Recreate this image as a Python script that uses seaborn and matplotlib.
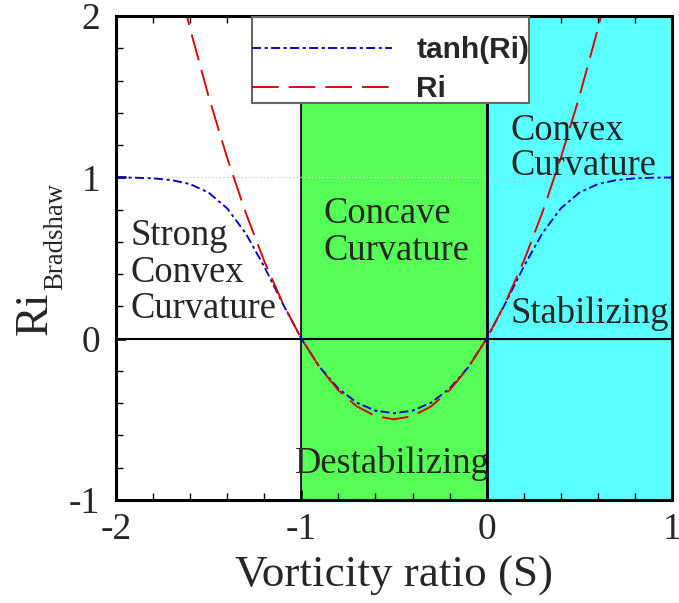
import matplotlib
matplotlib.use("Agg")
import matplotlib.pyplot as plt
import seaborn as sns
from matplotlib.ticker import MultipleLocator
from matplotlib.font_manager import FontProperties

# Vorticity ratio S
S = [-2.0, -1.9, -1.8, -1.7, -1.6, -1.5, -1.4, -1.3, -1.2, -1.1,
     -1.0, -0.9, -0.8, -0.7, -0.6, -0.5, -0.4, -0.3, -0.2, -0.1,
     0.0, 0.1, 0.2, 0.3, 0.4, 0.5, 0.6, 0.7, 0.8, 0.9, 1.0]

# Bradshaw Richardson number
RI = [4.00, 3.42, 2.88, 2.38, 1.92, 1.50, 1.12, 0.78, 0.48, 0.22,
      0.00, -0.18, -0.32, -0.42, -0.48, -0.50, -0.48, -0.42, -0.32, -0.18,
      0.00, 0.22, 0.48, 0.78, 1.12, 1.50, 1.92, 2.38, 2.88, 3.42, 4.00]

# Bounded form tanh(Ri)
TANH_RI = [0.9993, 0.9979, 0.9937, 0.9830, 0.9581, 0.9051, 0.8074, 0.6527, 0.4462, 0.2165,
           0.0000, -0.1781, -0.3095, -0.3969, -0.4462, -0.4621, -0.4462, -0.3969, -0.3095, -0.1781,
           0.0000, 0.2165, 0.4462, 0.6527, 0.8074, 0.9051, 0.9581, 0.9830, 0.9937, 0.9979, 0.9993]

SERIES_LABELS = ["tanh(Ri)", "Ri"]
X_TICKS = [-2, -1, 0, 1]
Y_TICKS = [-1, 0, 1, 2]

sns.set_style("ticks")
plt.rcParams.update({
    "font.family": ["Liberation Serif", "DejaVu Serif"],
    "axes.unicode_minus": False,
    "lines.scale_dashes": False,
})

fig = plt.figure(figsize=(6.79, 6.03), dpi=100)
ax = fig.add_axes([116 / 679, 1 - 500 / 603, 556 / 679, 484 / 603])

# curvature regimes
ax.axvspan(-1, 0, facecolor="#55ff55", edgecolor="black", lw=1.2, zorder=0)
ax.axvspan(0, 1, facecolor="#5affff", edgecolor="black", lw=1.2, zorder=0)
ax.axhline(1, color="#cfcfcf", ls=":", lw=0.8, zorder=0.5)
ax.axhline(0, color="black", lw=1.5, zorder=1)
ax.axvline(0, color="black", lw=2.0, zorder=1)

sns.lineplot(x=S, y=TANH_RI, ax=ax, color="#0000cc", lw=1.35, sort=False,
             linestyle=(0, (6.5, 2.6, 2.2, 2.4)), label=SERIES_LABELS[0], zorder=3)
sns.lineplot(x=S, y=RI, ax=ax, color="#dd0000", lw=1.35, sort=False,
             linestyle=(0, (19.2, 7.2)), label=SERIES_LABELS[1], zorder=3)

ax.set_xlim(-2, 1)
ax.set_ylim(-1, 2)
ax.xaxis.set_major_locator(MultipleLocator(1))
ax.xaxis.set_minor_locator(MultipleLocator(0.2))
ax.yaxis.set_major_locator(MultipleLocator(1))
ax.yaxis.set_minor_locator(MultipleLocator(0.2))
ax.set_xticks(X_TICKS)
ax.set_yticks(Y_TICKS)
ax.set_xticklabels([str(v) for v in X_TICKS])
ax.set_yticklabels([str(v) for v in Y_TICKS])

ax.tick_params(which="both", direction="in", top=True, bottom=True, left=True, right=False,
               labelsize=27, color="black")
ax.tick_params(which="major", length=7.2, width=1.8)
ax.tick_params(which="minor", length=5, width=1.0)
ax.tick_params(axis="x", pad=9)
ax.tick_params(axis="y", pad=11.5)
for sp in ax.spines.values():
    sp.set_linewidth(2.2)
    sp.set_color("black")
    sp.set_visible(True)
    sp.set_zorder(5)

ax.set_xlabel("Vorticity ratio (S)", fontsize=32.5)
ax.xaxis.label.set_va("baseline")
ax.xaxis.set_label_coords(0.5, (500 - 587) / 484)
ax.set_ylabel("")

fig.text(47 / 679, 1 - 335 / 603, "Ri", fontsize=33, rotation=90,
         rotation_mode="anchor", ha="left", va="baseline")
fig.text(62 / 679, 1 - 290 / 603, "Bradshaw", fontsize=19.3, rotation=90,
         rotation_mode="anchor", ha="left", va="baseline")

# region labels, anchored at the baseline of their last line
txt = dict(fontsize=26.3, ha="left", va="baseline", zorder=4)
ax.text(-1.924, 0.128, "Strong\nConvex\nCurvature", linespacing=1.07, **txt)
ax.text(-0.883, 0.488, "Concave\nCurvature", linespacing=1.08, **txt)
ax.text(-1.034, -0.833, "Destabilizing", **txt)
ax.text(0.126, 1.014, "Convex\nCurvature", linespacing=1.02, **txt)
ax.text(0.126, 0.097, "Stabilizing", **txt)

leg = ax.legend(loc="upper left", bbox_to_anchor=((252 - 116) / 556, 1 - 1 / 484),
                borderaxespad=0, frameon=True, fancybox=False, framealpha=1,
                edgecolor="#666666", facecolor="white",
                prop=FontProperties(family="Liberation Sans", weight="bold", size=21.5),
                title=" ", title_fontproperties=FontProperties(size=6),
                handlelength=4.7, handletextpad=0.8, borderpad=0.0, labelspacing=0.37)
leg.get_frame().set_linewidth(1.5)
leg.set_zorder(6)

fig.savefig("out.png", dpi=100)
